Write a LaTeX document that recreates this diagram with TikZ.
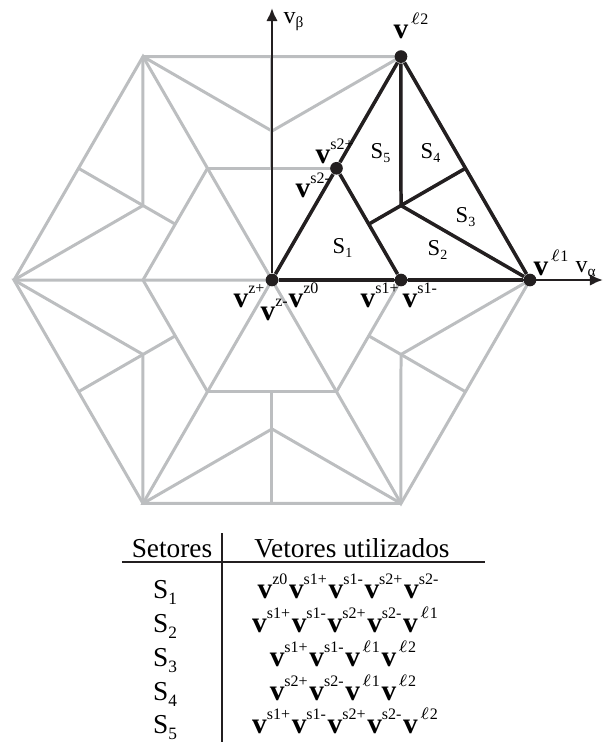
\documentclass[tikz,border=0pt]{standalone}
\usepackage{fontspec}
\setmainfont{Liberation Serif}
\usetikzlibrary{arrows.meta}
\definecolor{gridgray}{RGB}{188,190,192}
\definecolor{inkblack}{RGB}{35,31,32}

\newcommand{\vsup}[1]{{\fontsize{8.8}{9}\selectfont\bfseries v}\raisebox{4.2pt}{\fontsize{4.8}{5}\selectfont #1}}
\newcommand{\slab}[1]{{\fontsize{6.8}{7}\selectfont S\raisebox{-1.3pt}{\fontsize{4.2}{4}\selectfont #1}}}
\newcommand{\tslab}[1]{{\fontsize{8.2}{9}\selectfont S\raisebox{-1.8pt}{\fontsize{5.2}{5}\selectfont #1}}}
\newcommand{\axlab}[1]{{\fontsize{7.2}{7}\selectfont v\raisebox{-1.3pt}{\fontsize{4.6}{5}\selectfont #1}}}

\begin{document}
\begin{tikzpicture}[x=0.3pt,y=0.3pt,
  grid/.style={draw=gridgray,line width=0.9pt},
  sect/.style={draw=inkblack,line width=1.05pt,line join=round},
  axis/.style={draw=inkblack,line width=0.8pt,-{Latex[length=3.9pt,width=3.5pt]}},
  rule/.style={draw=inkblack,line width=0.8pt},
  dot/.style={circle,fill=inkblack,inner sep=0pt,minimum size=3.8pt},
  lab/.style={inner sep=0pt,anchor=base west},
  hdr/.style={inner sep=0pt,anchor=base,font=\fontsize{8.2}{9}\selectfont}]

\useasboundingbox (-272,-465) rectangle (336,280);

% hexagon points
\coordinate (O) at (0,0);
\foreach \k in {0,...,5} {
  \coordinate (H\k) at ({60*\k}:258);
  \coordinate (I\k) at ({60*\k}:129);
  \coordinate (C\k) at ({60*\k+30}:148.96);
  \coordinate (Ma\k) at ({60*\k+30}:111.7);
  \coordinate (Mb\k) at ({60*\k+30}:223.4);
}

% gray sectors
\foreach \k in {0,...,5} {
  \pgfmathtruncatemacro{\n}{mod(\k+1,6)}
  \draw[grid] (O) -- (H\k) -- (H\n);
  \draw[grid] (I\k) -- (I\n);
  \draw[grid] (H\k) -- (C\k) -- (H\n);
  \draw[grid] (Ma\k) -- (Mb\k);
}

\node[dot] (Z) at (O) {};
\node[dot] (S1) at (I0) {};
\node[dot] (S2) at (I1) {};
\node[dot] (L1) at (H0) {};
\node[dot] (L2) at (H1) {};

\coordinate (XA) at (331,0);
\coordinate (YA) at (0,272);
\draw[axis] (Z) -- (XA);
\draw[axis] (Z) -- (YA);

\draw[sect] (Z) -- (S2) -- (L2) -- (L1);
\draw[sect] (Z) -- (S1) -- (L1);
\draw[sect] (S1) -- (S2);
\draw[sect] (L1) -- (C0) -- (L2);
\draw[sect] (Ma0) -- (Mb0);

\node[lab] (vzp) at (-39,-27) {\vsup{z+}};
\node[lab] (vzm) at (-12,-40) {\vsup{z-}};
\node[lab] (vzo) at (16,-27) {\vsup{z0}};
\node[lab] (vsap) at (88,-27) {\vsup{s1+}};
\node[lab] (vsam) at (130,-27) {\vsup{s1-}};
\node[lab] (vsbp) at (43,117) {\vsup{s2+}};
\node[lab] (vsbm) at (23,83) {\vsup{s2-}};
\node[lab] (vla) at (261,5) {\vsup{\kern0.6pt$\ell$1}};
\node[lab] (vlb) at (121,242) {\vsup{\kern0.6pt$\ell$2}};

\node[lab] (vb) at (11,257) {\axlab{β}};
\node[lab] (va) at (303,8) {\axlab{α}};

\node[lab] (sa) at (60,27) {\slab{1}};
\node[lab] (sb) at (155,25) {\slab{2}};
\node[lab] (sc) at (183,58) {\slab{3}};
\node[lab] (sd) at (148,122) {\slab{4}};
\node[lab] (se) at (98,122) {\slab{5}};

% table
\node[hdr] (hs) at (-100,-277) {Setores};
\node[hdr] (hv) at (80,-277) {Vetores utilizados};
\coordinate (RL) at (-150,-282);
\coordinate (RR) at (213,-282);
\coordinate (CT) at (-50,-253);
\coordinate (CB) at (-50,-462);
\draw[rule] (RL) -- (RR);
\draw[rule] (CT) -- (CB);

\node[hdr] (t1) at (-107,-318) {\tslab{1}};
\node[hdr] (t2) at (-107,-352) {\tslab{2}};
\node[hdr] (t3) at (-107,-386) {\tslab{3}};
\node[hdr] (t4) at (-107,-420) {\tslab{4}};
\node[hdr] (t5) at (-107,-453) {\tslab{5}};

\node[hdr] (r1) at (76,-318) {\vsup{z0}\kern0.5pt\vsup{s1+}\kern0.5pt\vsup{s1-}\kern0.5pt\vsup{s2+}\kern0.5pt\vsup{s2-}};
\node[hdr] (r2) at (73,-352) {\vsup{s1+}\kern0.5pt\vsup{s1-}\kern0.5pt\vsup{s2+}\kern0.5pt\vsup{s2-}\kern0.5pt\vsup{\kern0.6pt$\ell$1}};
\node[hdr] (r3) at (71,-386) {\vsup{s1+}\kern0.5pt\vsup{s1-}\kern0.5pt\vsup{\kern0.6pt$\ell$1}\kern0.5pt\vsup{\kern0.6pt$\ell$2}};
\node[hdr] (r4) at (71,-420) {\vsup{s2+}\kern0.5pt\vsup{s2-}\kern0.5pt\vsup{\kern0.6pt$\ell$1}\kern0.5pt\vsup{\kern0.6pt$\ell$2}};
\node[hdr] (r5) at (73,-453) {\vsup{s1+}\kern0.5pt\vsup{s1-}\kern0.5pt\vsup{s2+}\kern0.5pt\vsup{s2-}\kern0.5pt\vsup{\kern0.6pt$\ell$2}};

\end{tikzpicture}
\end{document}
